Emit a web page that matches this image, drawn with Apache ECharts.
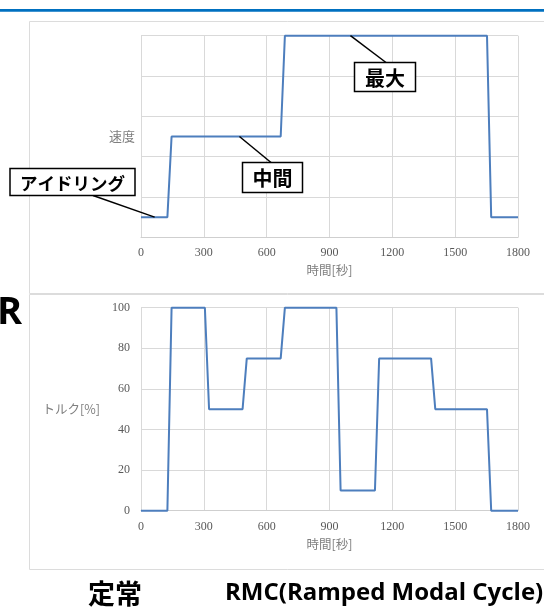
<!DOCTYPE html>
<html><head><meta charset="utf-8">
<script src="https://cdn.jsdelivr.net/npm/echarts@6/dist/echarts.min.js"></script>
<style>html,body{margin:0;padding:0;background:#fff;}#c{width:544px;height:608px;}</style>
</head><body><div id="c"></div>
<script>
// ---- data ----
const timeMin = 0, timeMax = 1800, timeStep = 300;
const speedTime  = [0, 126, 146, 667, 687, 1652, 1672, 1800];
const speedValue = [0.5, 0.5, 2.5, 2.5, 5, 5, 0.5, 0.5];
const torqueTime  = [0, 126, 146, 305, 325, 485, 505, 667, 687, 933, 953, 1117, 1137, 1385, 1405, 1652, 1672, 1800];
const torqueValue = [0, 0, 100, 100, 50, 50, 75, 75, 100, 100, 10, 10, 75, 75, 50, 50, 0, 0];
const annotationLabels = ['アイドリング', '中間', '最大'];
const annotationTimes  = [65, 470, 1000];
const annotationValues = [0.5, 2.5, 5];
const xName = '時間[秒]';
const speedName = '速度';
const torqueName = 'トルク[%]';
const titleCJK = '定常';
const titleLatin = 'RMC(Ramped Modal Cycle)';

const speedData = speedTime.map((t, i) => [t, speedValue[i]]);
const torqueData = torqueTime.map((t, i) => [t, torqueValue[i]]);

const gridColor = '#d9d9d9';
const labelColor = '#595959';
const nameColor = '#7f7f7f';
const lineColor = '#4d7ebd';
const tickFont = 'Liberation Serif';
const cjkFont = '"Noto Sans CJK JP"';

function xAxisCfg(gi) {
  return {
    type: 'value', gridIndex: gi, min: timeMin, max: timeMax, interval: timeStep,
    name: xName, nameLocation: 'middle', nameGap: 27,
    nameTextStyle: { color: nameColor, fontSize: 12.5, fontFamily: cjkFont },
    axisLine: { show: true, lineStyle: { color: '#cfcfcf', width: 1 } },
    axisTick: { show: false },
    axisLabel: { color: labelColor, fontSize: 12, fontFamily: tickFont, margin: 10, formatter: v => String(v) },
    splitLine: { show: true, lineStyle: { color: gridColor, width: 1 } }
  };
}

const chart = echarts.init(document.getElementById('c'), null, { renderer: 'canvas' });
const option = {
  animation: false,
  backgroundColor: '#ffffff',
  grid: [
    { left: 141, right: 26, top: 35.7, height: 201.6 },
    { left: 141, right: 26, top: 307.7, height: 203 }
  ],
  xAxis: [xAxisCfg(0), xAxisCfg(1)],
  yAxis: [
    {
      type: 'value', gridIndex: 0, min: 0, max: 5, interval: 1,
      name: speedName, nameLocation: 'middle', nameRotate: 0, nameGap: 6,
      nameTextStyle: { color: nameColor, fontSize: 13, fontFamily: cjkFont, align: 'right' },
      axisLine: { show: false }, axisTick: { show: false }, axisLabel: { show: false },
      splitLine: { show: true, lineStyle: { color: gridColor, width: 1 } }
    },
    {
      type: 'value', gridIndex: 1, min: 0, max: 100, interval: 20,
      name: torqueName, nameLocation: 'middle', nameRotate: 0, nameGap: 41,
      nameTextStyle: { color: nameColor, fontSize: 12.5, fontFamily: cjkFont, align: 'right' },
      axisLine: { show: false }, axisTick: { show: false },
      axisLabel: { color: labelColor, fontSize: 12, fontFamily: tickFont, margin: 11 },
      splitLine: { show: true, lineStyle: { color: gridColor, width: 1 } }
    }
  ],
  series: [
    { type: 'line', xAxisIndex: 0, yAxisIndex: 0, data: speedData, showSymbol: false, clip: false,
      lineStyle: { color: lineColor, width: 2 }, z: 5 },
    { type: 'line', xAxisIndex: 1, yAxisIndex: 1, data: torqueData, showSymbol: false, clip: false,
      lineStyle: { color: lineColor, width: 2 }, z: 5 }
  ]
};
chart.setOption(option);

// annotation boxes (pixel layout), leaders anchored to data
const boxes = [
  { x: 10, y: 168.5, w: 125, h: 27, lx: 93, ly: 195.5, fs: 17.5 },
  { x: 242.5, y: 162.5, w: 60, h: 30, lx: 271, ly: 162.5, fs: 20 },
  { x: 354.5, y: 62.5, w: 61, h: 29, lx: 386, ly: 62.5, fs: 20 }
];
const g = [];
g.push({ type: 'rect', z: 1, shape: { x: 0, y: 9, width: 544, height: 2.7 }, style: { fill: '#0070c0' } });
g.push({ type: 'rect', z: 1, shape: { x: 29.5, y: 21.5, width: 540, height: 272 }, style: { fill: 'none', stroke: '#dcdcdc', lineWidth: 1 } });
g.push({ type: 'rect', z: 1, shape: { x: 29.5, y: 294.5, width: 540, height: 275 }, style: { fill: 'none', stroke: '#dcdcdc', lineWidth: 1 } });
annotationLabels.forEach((lab, i) => {
  const p = chart.convertToPixel({ gridIndex: 0 }, [annotationTimes[i], annotationValues[i]]);
  const b = boxes[i];
  g.push({ type: 'line', z: 50, shape: { x1: b.lx, y1: b.ly, x2: p[0], y2: p[1] }, style: { stroke: '#000', lineWidth: 1.5 } });
  g.push({ type: 'rect', z: 51, shape: { x: b.x, y: b.y, width: b.w, height: b.h }, style: { fill: '#fff', stroke: '#000', lineWidth: 1.5 } });
  g.push({ type: 'text', z: 52, style: { text: lab, x: b.x + b.w / 2, y: b.y + b.h / 2 + 1, align: 'center', verticalAlign: 'middle',
    font: 'bold ' + b.fs + 'px ' + cjkFont, fill: '#000' } });
});
g.push({ type: 'text', z: 52, style: { text: 'R', x: -3, y: 313, align: 'left', verticalAlign: 'middle', font: 'bold 38px "Open Sans"', fill: '#000' } });
g.push({ type: 'text', z: 52, style: { text: titleCJK, x: 88, y: 594, align: 'left', verticalAlign: 'middle', font: 'bold 27px ' + cjkFont, fill: '#000' } });
g.push({ type: 'text', z: 52, style: { text: titleLatin, x: 225, y: 593, align: 'left', verticalAlign: 'middle', font: 'bold 24px "Open Sans"', fill: '#000' } });
chart.setOption({ graphic: g });
</script>
</body></html>
